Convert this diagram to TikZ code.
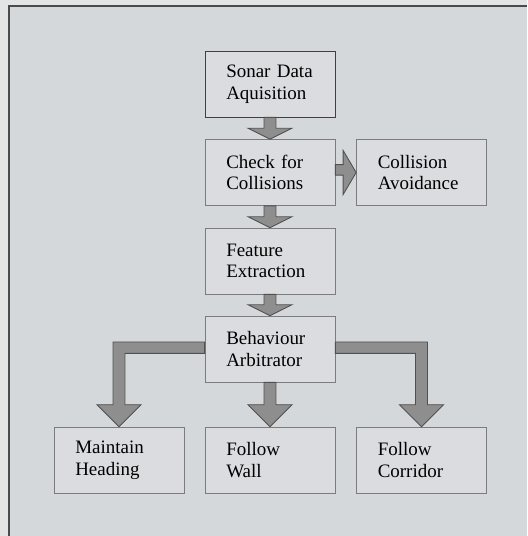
\documentclass[tikz,border=0pt]{standalone}
\usepackage{fontspec}
\setmainfont{Liberation Serif}
\usetikzlibrary{calc}
\definecolor{PaperGray}{HTML}{D5D8DB}
\definecolor{EdgeGray}{HTML}{E2E4E6}
\definecolor{BoxGray}{HTML}{DADCDF}
\definecolor{LineGray}{HTML}{7C7C7C}
\definecolor{FrameGray}{HTML}{4A4A4A}
\definecolor{ArrowFill}{HTML}{8E8E8E}
\definecolor{ArrowEdge}{HTML}{505050}
\tikzset{
  stepbox/.style={draw=LineGray, fill=BoxGray, align=left, text width=1.75cm, inner xsep=0.425cm, minimum height=1.32cm, font=\fontsize{10.8}{12.3}\selectfont},
  blockarrow/.style={fill=ArrowFill, draw=ArrowEdge, line width=0.5pt, line join=miter}
}
% block arrows: shaft half width 3.4pt, head half width 12.5pt, head length as given
\newcommand{\blockdown}[3]{%
  \draw[blockarrow] ($(#1.south)+(-3.4pt,0)$) -- ($(#2.north)+(-3.4pt,#3)$) -- ($(#2.north)+(-12.5pt,#3)$)
    -- (#2.north) -- ($(#2.north)+(12.5pt,#3)$) -- ($(#2.north)+(3.4pt,#3)$) -- ($(#1.south)+(3.4pt,0)$) -- cycle;}
\newcommand{\blockright}[2]{%
  \draw[blockarrow] ($(#1.east)+(0,4.5pt)$) -- ($(#2.west)+(-7.4pt,4.5pt)$) -- ($(#2.west)+(-7.4pt,12.5pt)$)
    -- (#2.west) -- ($(#2.west)+(-7.4pt,-12.5pt)$) -- ($(#2.west)+(-7.4pt,-1.5pt)$) -- ($(#1.east)+(0,-1.5pt)$) -- cycle;}
\newcommand{\blockbend}[4]{%
  \draw[blockarrow] let \p1=(#1.#2), \p2=(#3.north) in
    (\x1,\y1+4pt) -- (\x2+#4*3.4pt,\y1+4pt) -- (\x2+#4*3.4pt,\y2+12.5pt) -- (\x2+#4*12.5pt,\y2+12.5pt)
    -- (\x2,\y2) -- (\x2-#4*12.5pt,\y2+12.5pt) -- (\x2-#4*3.4pt,\y2+12.5pt) -- (\x2-#4*3.4pt,\y1-2.5pt) -- (\x1,\y1-2.5pt) -- cycle;}

\begin{document}
\begin{tikzpicture}[x=0.02cm, y=-0.02cm]
\useasboundingbox (0,0) rectangle (527,536);
\fill[EdgeGray] (0,0) rectangle (527,536);
\fill[PaperGray] (9,6) rectangle (527,536);
\draw[FrameGray, line width=1.1pt] (527,6) -- (9,6) -- (9,536);

% boxes
\node[stepbox, draw=black!75] (sonar) at (270,84) {Sonar Data\\Aquisition};
\node[stepbox] (check) at (270,172.5) {Check for\\Collisions};
\node[stepbox] (avoid) at (421.5,172.5) {Collision\\Avoidance};
\node[stepbox] (feature) at (270,261) {Feature\\Extraction};
\node[stepbox] (arbiter) at (270,349) {Behaviour\\Arbitrator};
\node[stepbox] (heading) at (119,460) {Maintain\\Heading};
\node[stepbox] (wall) at (270,460) {Follow\\Wall};
\node[stepbox] (corridor) at (421.5,460) {Follow\\Corridor};

% arrows
\blockdown{sonar}{check}{6.2pt}
\blockright{check}{avoid}
\blockdown{check}{feature}{6.2pt}
\blockdown{feature}{arbiter}{6.2pt}
\blockdown{arbiter}{wall}{12.5pt}
\blockbend{arbiter}{west}{heading}{-1}
\blockbend{arbiter}{east}{corridor}{1}
\end{tikzpicture}
\end{document}
